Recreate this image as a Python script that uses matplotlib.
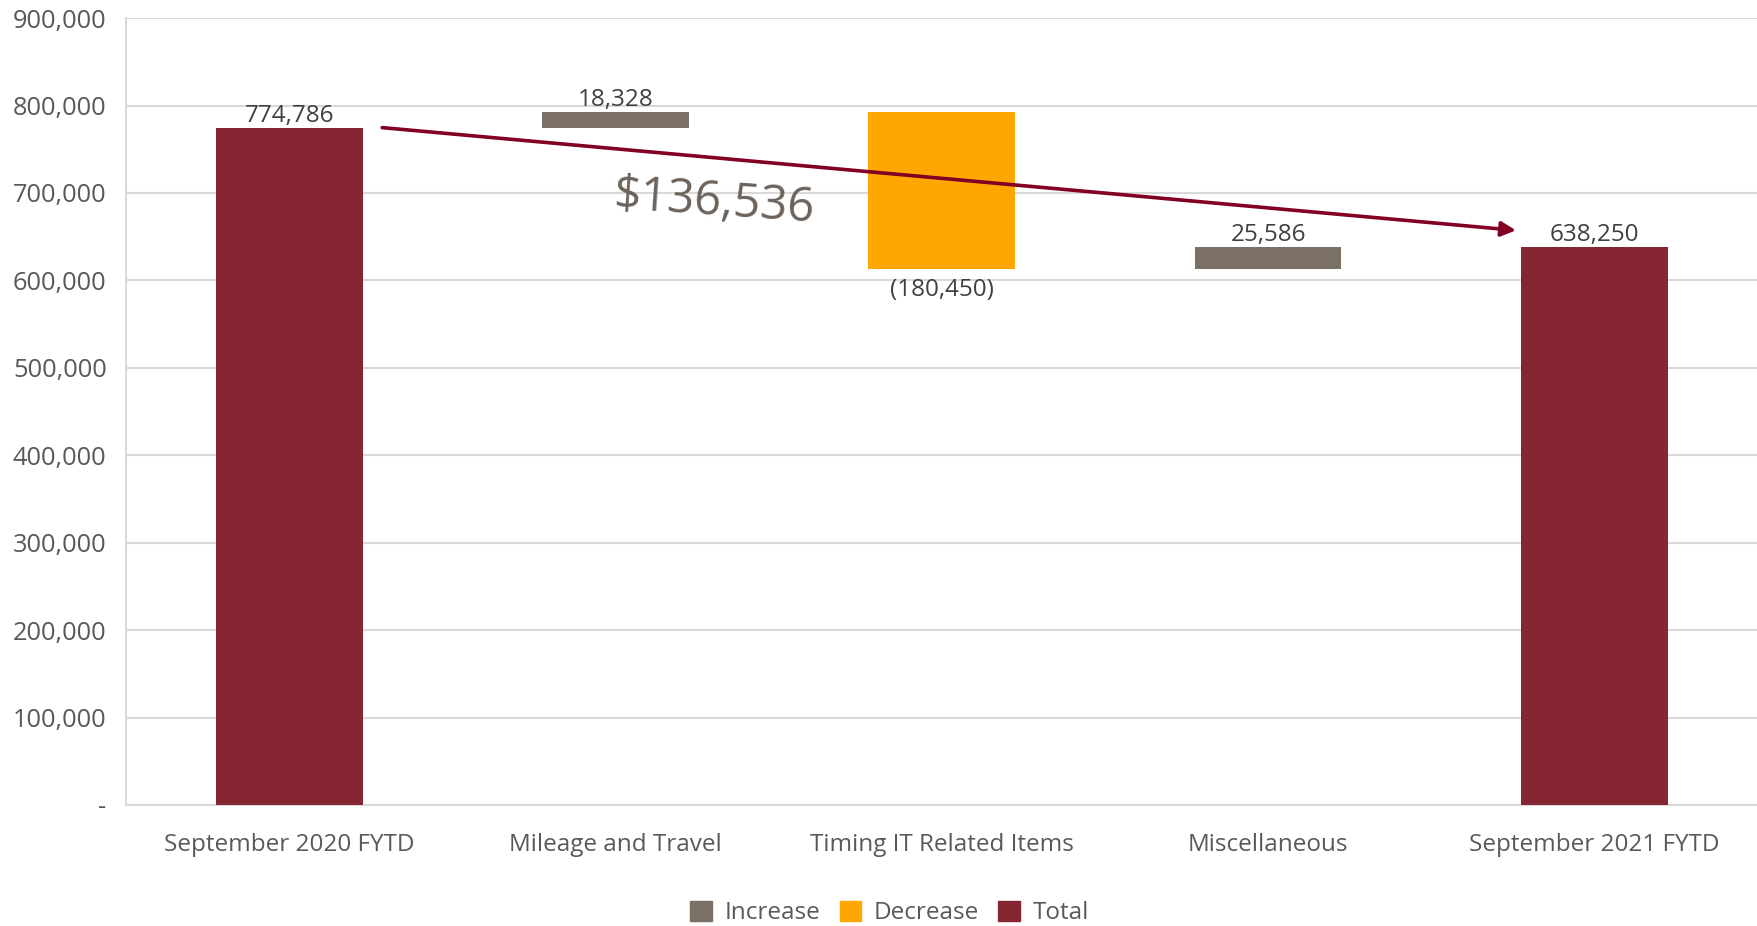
import matplotlib
matplotlib.use("Agg")
import matplotlib.pyplot as plt
from matplotlib.patches import Patch
from matplotlib.ticker import FuncFormatter
import numpy as np

plt.rcParams['font.family'] = ['Open Sans', 'DejaVu Sans']

# Waterfall data
categories = ['September 2020 FYTD', 'Mileage and Travel', 'Timing IT Related Items',
              'Miscellaneous', 'September 2021 FYTD']
values = [774786, 18328, -180450, 25586, 638250]
kinds = ['total', 'increase', 'decrease', 'increase', 'total']

colors = {'increase': '#7a7065', 'decrease': '#ffa600', 'total': '#862633'}
grid_col = '#d9d9d9'
text_col = '#595959'

# bottoms / heights for each step
bottoms = []
heights = []
running = 0
for v, k in zip(values, kinds):
    if k == 'total':
        bottoms.append(0)
        heights.append(v)
        running = v
    else:
        bottoms.append(min(running, running + v))
        heights.append(abs(v))
        running += v

fig = plt.figure(figsize=(17.58, 9.26), dpi=100)
ax = fig.add_axes([0.0717, 0.1307, 0.928, 0.8497])

x = np.arange(len(categories))
bw = 0.45
ax.bar(x, heights, bw, bottom=bottoms, color=[colors[k] for k in kinds], zorder=3)

# value labels
for i, (v, k) in enumerate(zip(values, kinds)):
    txt = f'({abs(v):,})' if v < 0 else f'{v:,}'
    if v < 0:
        ax.annotate(txt, (x[i], bottoms[i]), xytext=(0, -6), textcoords='offset points',
                    ha='center', va='top', fontsize=17.5, color='#404040')
    else:
        ax.annotate(txt, (x[i], bottoms[i] + heights[i]), xytext=(0, 0), textcoords='offset points',
                    ha='center', va='bottom', fontsize=17.5, color='#404040')

# overall change arrow
change = values[0] - values[-1]
ax.annotate('', xy=(x[-1] - bw / 2 - 0.015, values[-1] + 19000),
            xytext=(x[0] + bw / 2 + 0.06, values[0]),
            arrowprops=dict(arrowstyle='-|>', color='#820024', lw=2.6,
                            mutation_scale=22, shrinkA=0, shrinkB=0), zorder=5)
ax.text(1.30, 689000, f'${change:,}', ha='center', va='center', fontsize=34,
        color='#6b625a', rotation=-4, rotation_mode='anchor', zorder=6)

ax.set_xlim(-0.5, len(categories) - 0.5)
ax.set_ylim(0, 900000)
ax.set_yticks(np.arange(0, 900001, 100000))
ax.yaxis.set_major_formatter(FuncFormatter(lambda v, p: '-' if v == 0 else f'{int(v):,}'))
ax.set_xticks(x)
ax.set_xticklabels(categories)
ax.tick_params(axis='y', length=0, pad=14, labelsize=18.3, labelcolor=text_col)
ax.tick_params(axis='x', length=0, pad=20, labelsize=17.5, labelcolor=text_col)

ax.grid(axis='y', color=grid_col, lw=1.5, zorder=0)
for s in ['top', 'right']:
    ax.spines[s].set_visible(False)
for s in ['left', 'bottom']:
    ax.spines[s].set_color(grid_col)
    ax.spines[s].set_linewidth(1.5)

handles = [Patch(color=colors[k]) for k in ['increase', 'decrease', 'total']]
fig.legend(handles, ['Increase', 'Decrease', 'Total'], loc='center', bbox_to_anchor=(0.506, 0.014),
           ncol=3, frameon=False, fontsize=17.5, labelcolor=text_col, handlelength=0.9,
           handleheight=0.9, columnspacing=0.8, handletextpad=0.5)

fig.savefig('out.png', dpi=100)
